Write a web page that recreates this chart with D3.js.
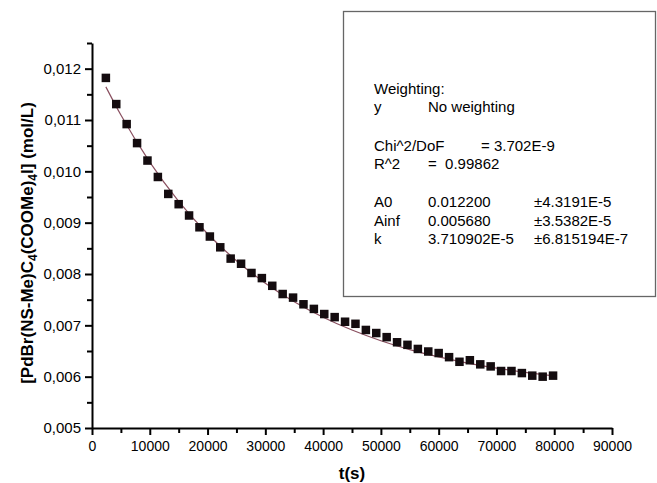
<!DOCTYPE html>
<html>
<head>
<meta charset="utf-8">
<script src="https://cdn.jsdelivr.net/npm/d3@7"></script>
<style>
  body { margin: 0; background: #fff; }
  svg { display: block; font-family: "Liberation Sans", Arial, sans-serif; }
  .report { white-space: pre; }
</style>
</head>
<body>
<svg id="chart" width="657" height="483"></svg>
<script>
(function (d3) {

  /* ========== DATA ========== */

  // sampling times (s)
  var times = [2400, 4200, 6000, 7800, 9600, 11400, 13200, 15000, 16800, 18600,
    20400, 22200, 24000, 25800, 27600, 29400, 31200, 33000, 34800, 36600,
    38400, 40200, 42000, 43800, 45600, 47400, 49200, 51000, 52800, 54600,
    56400, 58200, 60000, 61800, 63600, 65400, 67200, 69000, 70800, 72600,
    74400, 76200, 78000, 79800];

  // measured concentration (mol/L)
  var conc = [0.01182, 0.01131, 0.01092, 0.01055, 0.01021, 0.00989, 0.00956, 0.00936, 0.00914, 0.00891,
    0.00873, 0.00852, 0.00830, 0.00820, 0.00802, 0.00792, 0.00777, 0.00761, 0.00754, 0.00741,
    0.00732, 0.00722, 0.00716, 0.00707, 0.00703, 0.00691, 0.00685, 0.00677, 0.00667, 0.00662,
    0.00654, 0.00649, 0.00646, 0.00638, 0.00629, 0.00632, 0.00624, 0.00620, 0.00611, 0.00611,
    0.00607, 0.00602, 0.00600, 0.00602];

  // fitted curve
  var fitT = [2400, 5000, 10000, 15000, 20000, 25000, 30000, 35000, 40000, 45000,
    50000, 55000, 60000, 65000, 70000, 75000, 80000];
  var fitC = [0.011645, 0.011096, 0.01018, 0.009417, 0.008784, 0.008259, 0.007822, 0.00746, 0.007158, 0.006908,
    0.0067, 0.006528, 0.006384, 0.006265, 0.006166, 0.006084, 0.006015];

  var xTicks = [0, 10000, 20000, 30000, 40000, 50000, 60000, 70000, 80000, 90000];
  var yTicks = [0.005, 0.006, 0.007, 0.008, 0.009, 0.010, 0.011, 0.012];

  // fit report shown in the box
  var reportLines = [
    ['Weighting:'],
    ['y', 'No weighting'],
    [],
    ['Chi^2/DoF', '= 3.702E-9'],
    ['R^2', '=  0.99862'],
    [],
    ['A0', '0.012200', '\u00b14.3191E-5'],
    ['Ainf', '0.005680', '\u00b13.5382E-5'],
    ['k', '3.710902E-5', '\u00b16.815194E-7']
  ];

  /* ========== SCALES ========== */

  var svg = d3.select('#chart');

  var x = d3.scaleLinear().domain([0, 90000]).range([92, 612]);
  var y = d3.scaleLinear().domain([0.005, 0.0125]).range([428, 43]);

  var yFmt = function (v) { return d3.format('.3f')(v).replace('.', ','); };

  /* ========== AXES ========== */

  var xMinor = d3.range(5000, 90000, 10000);
  var yMinor = d3.range(0.0055, 0.0126, 0.001);

  var gx = svg.append('g').attr('transform', 'translate(0,' + y(0.005) + ')');
  gx.call(d3.axisBottom(x).tickValues(xTicks).tickSize(7).tickSizeOuter(0).tickPadding(6).tickFormat(d3.format('d')));
  gx.append('g').call(d3.axisBottom(x).tickValues(xMinor).tickSize(5).tickFormat(''))
    .select('.domain').remove();

  var gy = svg.append('g').attr('transform', 'translate(' + x(0) + ',0)');
  gy.call(d3.axisLeft(y).tickValues(yTicks).tickSize(7).tickSizeOuter(0).tickPadding(4).tickFormat(yFmt));
  gy.append('g').call(d3.axisLeft(y).tickValues(yMinor).tickSize(5).tickFormat(''))
    .select('.domain').remove();

  svg.selectAll('.domain').attr('stroke', '#000').attr('stroke-width', 2);
  svg.selectAll('.tick line').attr('stroke', '#000').attr('stroke-width', 2);
  gx.selectAll('.tick text').attr('font-size', 14).attr('fill', '#000')
    .attr('font-family', '"Liberation Sans", Arial, sans-serif');
  gy.selectAll('.tick text').attr('font-size', 15).attr('fill', '#000')
    .attr('font-family', '"Liberation Sans", Arial, sans-serif');

  /* ========== AXIS TITLES ========== */

  svg.append('text')
    .attr('x', (x(0) + x(90000)) / 2)
    .attr('y', 479)
    .attr('text-anchor', 'middle')
    .attr('font-size', 17)
    .attr('font-weight', 'bold')
    .text('t(s)');

  var yl = svg.append('text')
    .attr('transform', 'translate(33,' + 243 + ') rotate(-90)')
    .attr('text-anchor', 'middle')
    .attr('font-size', 17)
    .attr('font-weight', 'bold');
  yl.append('tspan').text('[PdBr(NS-Me)C');
  yl.append('tspan').attr('font-size', 12).attr('dy', 4).text('4');
  yl.append('tspan').attr('dy', -4).text('(COOMe)');
  yl.append('tspan').attr('font-size', 12).attr('dy', 4).text('4');
  yl.append('tspan').attr('dy', -4).text('I] (mol/L)');

  /* ========== FIT + POINTS ========== */

  var fitData = fitT.map(function (t, i) { return [t, fitC[i]]; });
  svg.append('path')
    .datum(fitData)
    .attr('fill', 'none')
    .attr('stroke', '#8a5060')
    .attr('stroke-width', 1.2)
    .attr('d', d3.line()
      .x(function (d) { return x(d[0]); })
      .y(function (d) { return y(d[1]); })
      .curve(d3.curveMonotoneX));

  var sz = 8.5;
  svg.selectAll('.pt')
    .data(times.map(function (t, i) { return [t, conc[i]]; }))
    .enter().append('rect')
    .attr('class', 'pt')
    .attr('x', function (d) { return x(d[0]) - sz / 2; })
    .attr('y', function (d) { return y(d[1]) - sz / 2; })
    .attr('width', sz)
    .attr('height', sz)
    .attr('fill', '#140c0f');

  /* ========== REPORT BOX ========== */

  svg.append('rect')
    .attr('x', 343.5).attr('y', 11.5)
    .attr('width', 312).attr('height', 285)
    .attr('fill', '#fff')
    .attr('stroke', '#666')
    .attr('stroke-width', 1.3);

  var colX = [374, 428, 534];
  var lineY = [94, 112, 0, 151, 169, 0, 207, 226, 244];
  reportLines.forEach(function (row, i) {
    row.forEach(function (s, j) {
      var cx = colX[j];
      if (i === 3 && j === 1) cx = 481;
      svg.append('text')
        .attr('class', 'report')
        .attr('x', cx)
        .attr('y', lineY[i])
        .attr('font-size', 15)
        .attr('fill', '#000')
        .text(s);
    });
  });

}(window.d3));
</script>
</body>
</html>
